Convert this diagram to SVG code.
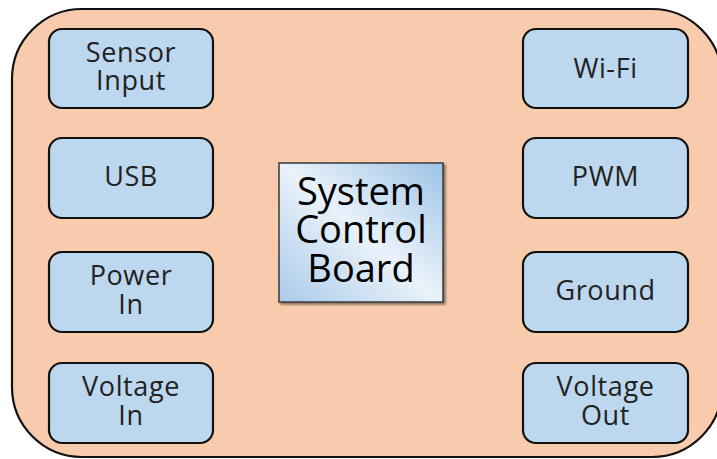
<svg xmlns="http://www.w3.org/2000/svg" width="717" height="459" viewBox="0 0 717 459">
<defs>
<linearGradient id="cg" x1="1" y1="0" x2="0" y2="1">
<stop offset="0" stop-color="#9DC3E6"/>
<stop offset="0.5" stop-color="#EAF2FA"/>
<stop offset="1" stop-color="#A9CAEA"/>
</linearGradient>
<filter id="sh" x="-10%" y="-10%" width="130%" height="130%">
<feDropShadow dx="2" dy="2" stdDeviation="1.2" flood-color="#000" flood-opacity="0.45"/>
</filter>
</defs>
<style>
.port rect{fill:#BDD7EE;stroke:#111;stroke-width:2.2}
.port text{font-family:"Open Sans","Noto Sans",sans-serif;font-size:27px;fill:#222;text-anchor:middle;letter-spacing:0.6px}
.main text{font-family:"Open Sans","Noto Sans",sans-serif;font-size:38px;fill:#000;text-anchor:middle}
</style>
<g id="board">
<rect x="12" y="9" width="710" height="448" rx="70" ry="70" fill="#F8CBAD" stroke="#111" stroke-width="2.2"/>
</g>
<g id="connectors"></g>
<g id="sensor-input" class="port">
<rect x="49" y="29" width="164" height="79" rx="13"/>
<text x="131" y="62">Sensor</text>
<text x="131" y="90">Input</text>
</g>
<g id="usb" class="port">
<rect x="49" y="138" width="164" height="80" rx="13"/>
<text x="131" y="186">USB</text>
</g>
<g id="power-in" class="port">
<rect x="49" y="252" width="164" height="80" rx="13"/>
<text x="131" y="285">Power</text>
<text x="131" y="314">In</text>
</g>
<g id="voltage-in" class="port">
<rect x="49" y="363" width="164" height="80" rx="13"/>
<text x="131" y="396">Voltage</text>
<text x="131" y="425">In</text>
</g>
<g id="wifi" class="port">
<rect x="523" y="29" width="165" height="79" rx="13"/>
<text x="605.5" y="78">Wi-Fi</text>
</g>
<g id="pwm" class="port">
<rect x="523" y="138" width="165" height="80" rx="13"/>
<text x="605.5" y="186">PWM</text>
</g>
<g id="ground" class="port">
<rect x="523" y="252" width="165" height="80" rx="13"/>
<text x="605.5" y="300">Ground</text>
</g>
<g id="voltage-out" class="port">
<rect x="523" y="363" width="165" height="80" rx="13"/>
<text x="605.5" y="396">Voltage</text>
<text x="605.5" y="425">Out</text>
</g>
<g id="system-control-board" class="main">
<rect x="279" y="163" width="164" height="139" fill="url(#cg)" stroke="#3a3a3a" stroke-width="1.5" filter="url(#sh)"/>
<text x="361" y="205">System</text>
<text x="361" y="243">Control</text>
<text x="361" y="282">Board</text>
</g>
</svg>
